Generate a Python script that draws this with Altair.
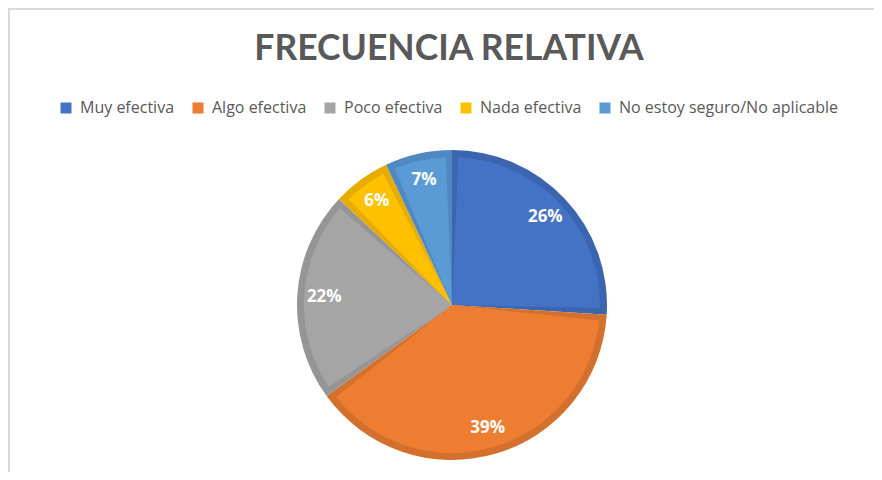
import altair as alt
import pandas as pd

title_text = "FRECUENCIA RELATIVA"
categories = ["Muy efectiva", "Algo efectiva", "Poco efectiva", "Nada efectiva",
              "No estoy seguro/No aplicable"]
values = [26, 39, 22, 6, 7]
labels = ["26%", "39%", "22%", "6%", "7%"]
fill_colors = ["#4472C4", "#ED7D31", "#A5A5A5", "#FFC000", "#5B9BD5"]
edge_colors = ["#3C65B0", "#D4702D", "#959595", "#E6AC00", "#5089C2"]

df = pd.DataFrame({"cat": categories, "val": values, "label": labels,
                   "idx": list(range(len(categories)))})

CX, CY = 444, 297
FONT = "Open Sans"

base = alt.Chart(df).encode(
    theta=alt.Theta("val:Q", stack=True),
    order=alt.Order("idx:Q"),
)

edge = base.mark_arc(radius=155, stroke=None).encode(
    x=alt.value(CX), y=alt.value(CY),
    color=alt.Color("cat:N", scale=alt.Scale(domain=categories, range=edge_colors),
                    legend=None),
)

fill = base.mark_arc(radius=148, padAngle=0.085, stroke=None).encode(
    x=alt.value(CX), y=alt.value(CY),
    color=alt.Color("cat:N", scale=alt.Scale(domain=categories, range=fill_colors),
                    legend=alt.Legend(title=None, orient="none", direction="horizontal",
                                      columns=5, legendX=50, legendY=92,
                                      symbolType="square", symbolSize=121,
                                      symbolStrokeWidth=0, symbolOpacity=1,
                                      labelFont=FONT, labelFontSize=16,
                                      labelColor="#595959", labelOffset=6,
                                      labelLimit=400, columnPadding=15)),
)

text = base.mark_text(radius=128, font=FONT, fontSize=17, fontWeight="bold",
                      color="white").encode(
    x=alt.value(CX), y=alt.value(CY),
    text="label:N",
)

title = alt.Chart(pd.DataFrame({"t": [title_text]})).mark_text(
    font="Lato", fontSize=35.5, fontWeight="bold", color="#595959",
    align="center", baseline="alphabetic",
).encode(x=alt.value(441), y=alt.value(52), text="t:N")

left_border = alt.Chart(df).mark_rule(color="#D9D9D9", strokeWidth=1.5).encode(
    x=alt.value(0.75), y=alt.value(0), y2=alt.value(464))
top_border = alt.Chart(df).mark_rule(color="#D9D9D9", strokeWidth=1.5).encode(
    x=alt.value(0), x2=alt.value(866), y=alt.value(0.75))

chart = alt.layer(left_border, top_border, title, edge, fill, text).resolve_scale(
    color="independent"
).properties(
    width=866, height=464,
    padding=0,
    autosize=alt.AutoSizeParams(type="none"),
).configure_view(stroke=None)

chart.save("out.html", embed_options={"renderer": "svg", "actions": False})
